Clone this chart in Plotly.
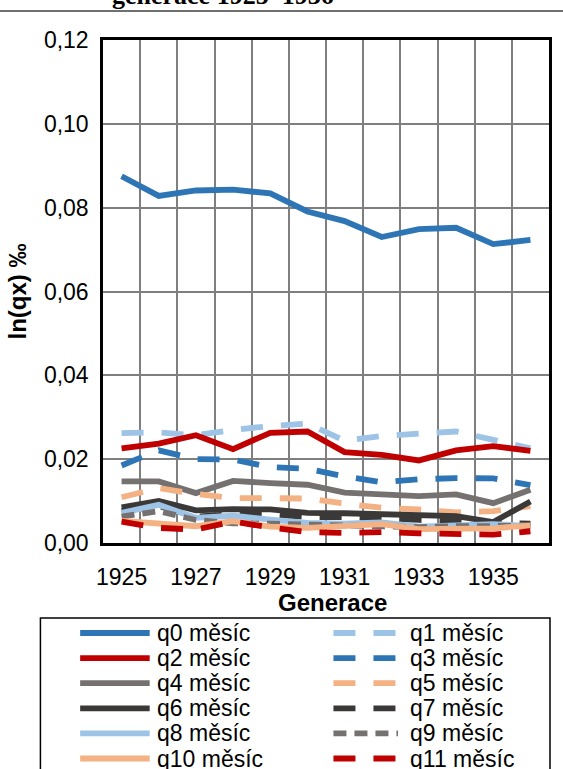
import plotly.graph_objects as go

years = [1925, 1926, 1927, 1928, 1929, 1930, 1931, 1932, 1933, 1934, 1935, 1936]
x_tick_labels = ["1925", "1927", "1929", "1931", "1933", "1935"]

q0 = [0.0875, 0.0828, 0.0841, 0.0843, 0.0834, 0.0791, 0.0768, 0.0730, 0.0749, 0.0752, 0.0713, 0.0723]
q1 = [0.0262, 0.0264, 0.0257, 0.0270, 0.0279, 0.0285, 0.0244, 0.0255, 0.0261, 0.0266, 0.0246, 0.0226]
q2 = [0.0226, 0.0237, 0.0257, 0.0224, 0.0263, 0.0266, 0.0217, 0.0210, 0.0197, 0.0221, 0.0231, 0.0220]
q3 = [0.0185, 0.0221, 0.0200, 0.0199, 0.0181, 0.0177, 0.0159, 0.0145, 0.0152, 0.0155, 0.0154, 0.0138]
q4 = [0.0147, 0.0147, 0.0119, 0.0148, 0.0143, 0.0139, 0.0120, 0.0117, 0.0112, 0.0116, 0.0095, 0.0127]
q5 = [0.0109, 0.0131, 0.0117, 0.0107, 0.0107, 0.0106, 0.0094, 0.0084, 0.0080, 0.0073, 0.0076, 0.0088]
q6 = [0.0085, 0.0100, 0.0078, 0.0081, 0.0080, 0.0072, 0.0071, 0.0068, 0.0064, 0.0064, 0.0050, 0.0099]
q7 = [0.0076, 0.0088, 0.0063, 0.0069, 0.0068, 0.0062, 0.0062, 0.0057, 0.0055, 0.0052, 0.0048, 0.0046]
q8 = [0.0072, 0.0091, 0.0060, 0.0065, 0.0056, 0.0048, 0.0046, 0.0049, 0.0039, 0.0041, 0.0045, 0.0041]
q9 = [0.0063, 0.0076, 0.0055, 0.0047, 0.0046, 0.0044, 0.0043, 0.0042, 0.0038, 0.0040, 0.0042, 0.0041]
q10 = [0.0053, 0.0045, 0.0040, 0.0052, 0.0039, 0.0036, 0.0040, 0.0045, 0.0033, 0.0034, 0.0035, 0.0042]
q11 = [0.0051, 0.0036, 0.0032, 0.0051, 0.0037, 0.0026, 0.0024, 0.0026, 0.0023, 0.0022, 0.0020, 0.0028]

series_names = ["q0 měsíc", "q1 měsíc", "q2 měsíc", "q3 měsíc", "q4 měsíc", "q5 měsíc",
                "q6 měsíc", "q7 měsíc", "q8 měsíc", "q9 měsíc", "q10 měsíc", "q11 měsíc"]
series_values = [q0, q1, q2, q3, q4, q5, q6, q7, q8, q9, q10, q11]

BLUE = "#2E75B6"
LBLUE = "#9DC3E6"
RED = "#C00000"
GRAY = "#767171"
PEACH = "#F4B183"
DARK = "#3B3838"
LONG = "22px,18px"
SHORT = "13px,8px"
series_colors = [BLUE, LBLUE, RED, BLUE, GRAY, PEACH, DARK, DARK, LBLUE, GRAY, PEACH, RED]
series_dash = ["solid", LONG, "solid", LONG, "solid", LONG, "solid", LONG, "solid", SHORT, "solid", LONG]

W, H = 563, 769
L, R, T, B = 103, 11, 40, 226
PW, PH = W - L - R, H - T - B


def px(xp):
    return (xp - L) / PW


def py(yp):
    return (H - B - yp) / PH


FONT = "Liberation Sans, Arial, sans-serif"
LW = 5.8

fig = go.Figure()
for name, vals, col, dash in zip(series_names, series_values, series_colors, series_dash):
    fig.add_trace(go.Scatter(x=years, y=vals, mode="lines", name=name,
                             line=dict(color=col, width=LW, dash=dash),
                             showlegend=False))

shapes = []
annotations = []

# top rule and cut-off heading
shapes.append(dict(type="line", xref="paper", yref="paper", x0=px(-5), x1=px(W + 5),
                   y0=py(11), y1=py(11), line=dict(color="#404040", width=1.5)))
annotations.append(dict(text="<b>generace 1925–1936</b>", xref="paper", yref="paper",
                        x=px(110), y=py(12), xanchor="left", yanchor="bottom",
                        showarrow=False,
                        font=dict(family="Liberation Serif, Times New Roman, serif",
                                  size=26, color="black")))

# x axis title
annotations.append(dict(text="<b>Generace</b>", xref="paper", yref="paper",
                        x=px(334), y=py(602), xanchor="center", yanchor="middle",
                        showarrow=False, font=dict(family=FONT, size=24, color="black")))

# custom legend box
shapes.append(dict(type="rect", xref="paper", yref="paper", x0=px(40), x1=px(553),
                   y0=py(618), y1=py(800), line=dict(color="black", width=1.5),
                   fillcolor="rgba(0,0,0,0)"))
for i, (name, col, dash) in enumerate(zip(series_names, series_colors, series_dash)):
    row, colm = i // 2, i % 2
    yrow = 633 + 25.1 * row
    x0, x1, xt = (80, 150, 155) if colm == 0 else (335, 400, 410)
    shapes.append(dict(type="line", xref="paper", yref="paper", x0=px(x0), x1=px(x1),
                       y0=py(yrow), y1=py(yrow),
                       line=dict(color=col, width=LW, dash=dash)))
    annotations.append(dict(text=name, xref="paper", yref="paper", x=px(xt), y=py(yrow),
                            xanchor="left", yanchor="middle", showarrow=False,
                            font=dict(family=FONT, size=23, color="black")))

fig.update_layout(
    width=W, height=H,
    margin=dict(l=L, r=R, t=T, b=B, pad=0),
    paper_bgcolor="white", plot_bgcolor="white",
    separators=",.",
    font=dict(family=FONT, size=22, color="black"),
    shapes=shapes, annotations=annotations,
    xaxis=dict(range=[1924.5, 1936.5], tickmode="array", tickvals=[1925, 1927, 1929, 1931, 1933, 1935],
               ticktext=x_tick_labels, showgrid=False, zeroline=False,
               showline=True, mirror=True, linecolor="black", linewidth=2.5,
               ticks="", ticklabelstandoff=12, tickfont=dict(size=23),
               minor=dict(tick0=1924.5, dtick=1, showgrid=True, gridcolor="#7F7F7F", gridwidth=1.5)),
    yaxis=dict(range=[0, 0.12], dtick=0.02, tickformat=".2f", showgrid=True,
               gridcolor="#7F7F7F", gridwidth=1.5, zeroline=False,
               showline=True, mirror=True, linecolor="black", linewidth=2.5,
               ticks="", ticklabelstandoff=7, tickfont=dict(size=23),
               title=dict(text="<b>ln(qx) ‰</b>", font=dict(size=24), standoff=11)),
)

fig.write_html("out.html", config={"displayModeBar": False},
               post_script="document.body.style.margin='0';")
